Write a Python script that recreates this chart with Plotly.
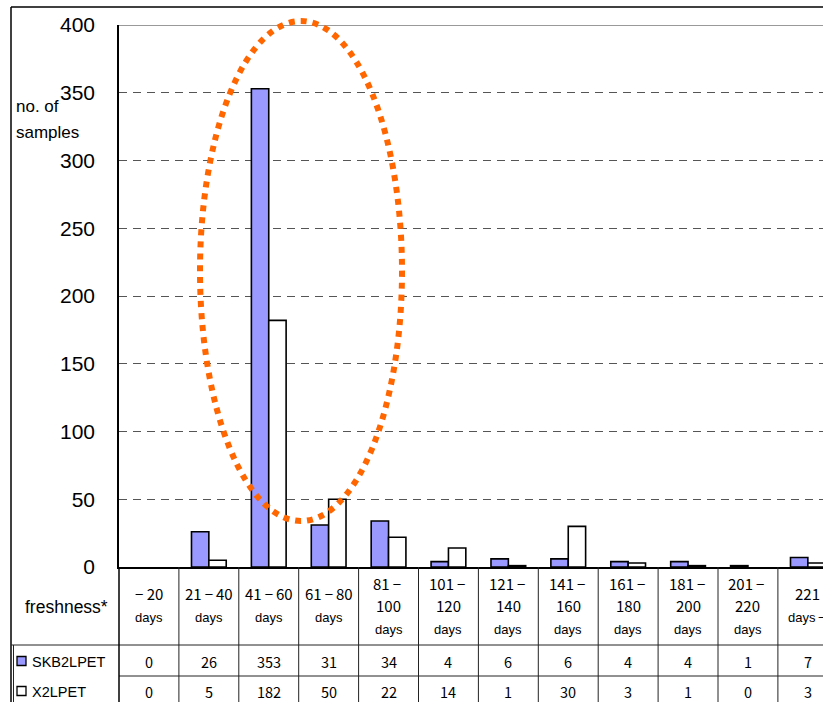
import plotly.graph_objects as go

# --- data -------------------------------------------------------------
DASH = "\u2009\u2212\u2009"
range_lines = [
    ["\u2212 20", "days"],
    ["21" + DASH + "40", "days"],
    ["41" + DASH + "60", "days"],
    ["61" + DASH + "80", "days"],
    ["81" + DASH, "100", "days"],
    ["101" + DASH, "120", "days"],
    ["121" + DASH, "140", "days"],
    ["141" + DASH, "160", "days"],
    ["161" + DASH, "180", "days"],
    ["181" + DASH, "200", "days"],
    ["201" + DASH, "220", "days"],
    ["221", "days" + DASH],
]
series_names = ["SKB2LPET", "X2LPET"]
skb2lpet = [0, 26, 353, 31, 34, 4, 6, 6, 4, 4, 1, 7]
x2lpet = [0, 5, 182, 50, 22, 14, 1, 30, 3, 1, 0, 3]
y_ticks = [0, 50, 100, 150, 200, 250, 300, 350, 400]

# --- geometry ---------------------------------------------------------
W, H = 823, 702
ML, MT, MB = 119, 25, 135
PW, PH = W - ML, H - MT - MB
CAT_W = 59.9
X0 = -0.5
X1 = X0 + PW / CAT_W
xs = list(range(len(range_lines)))

BLUE = "#9999FF"
ORANGE = "#FF6600"
LINE = "#222222"
CJK = "Noto Sans CJK JP"
SANS = "Liberation Sans, Arial, sans-serif"


def px(x):
    return (x - ML) / PW


def py(y):
    return (MT + PH - y) / PH


def cat_px(i):
    return ML + (i - X0) * CAT_W


def outline(values):
    # empty bars get no outline so nothing is drawn for them
    return [0 if v == 0 else 1.6 for v in values]


fig = go.Figure()
fig.add_bar(x=xs, y=skb2lpet, name=series_names[0],
            marker=dict(color=BLUE, line=dict(color="black", width=outline(skb2lpet))))
fig.add_bar(x=xs, y=x2lpet, name=series_names[1],
            marker=dict(color="white", line=dict(color="black", width=outline(x2lpet))))

shapes = []
annotations = []


def hline(y, xa, xb, color=LINE, width=1):
    shapes.append(dict(type="line", xref="paper", yref="paper", x0=px(xa), x1=px(xb),
                       y0=py(y), y1=py(y), line=dict(color=color, width=width), layer="above"))


def vline(x, ya, yb, color=LINE, width=1):
    shapes.append(dict(type="line", xref="paper", yref="paper", x0=px(x), x1=px(x),
                       y0=py(ya), y1=py(yb), line=dict(color=color, width=width), layer="above"))


def text(t, x, y, size, family, xanchor="center"):
    annotations.append(dict(text=t, xref="paper", yref="paper", x=px(x), y=py(y),
                            xanchor=xanchor, yanchor="middle", showarrow=False,
                            font=dict(size=size, family=family, color="black")))


# outer chart border
vline(11, 7, H + 2, color="black", width=1.5)
hline(7, 11, W + 2, color="black", width=1.5)

# solid top gridline at the axis maximum
shapes.append(dict(type="line", xref="paper", yref="y", x0=0, x1=1, y0=y_ticks[-1], y1=y_ticks[-1],
                   line=dict(color="#999999", width=2), layer="above"))

# data table grid
hline(645, 11, W + 2)
hline(676, ML, W + 2)
vline(13.5, 645, H + 2)
vline(ML, MT + PH, H + 2, color="black", width=1.5)
for i in range(len(range_lines)):
    bx = cat_px(i + 0.5)
    if bx < W:
        vline(bx, MT + PH, H + 2)

# category labels
for i, lines in enumerate(range_lines):
    cx = cat_px(i)
    ys = [583, 605, 629] if len(lines) == 3 else [593, 617]
    for ln, yy in zip(lines, ys):
        if ln.startswith("days"):
            text(ln, cx, yy, 13, SANS)
        else:
            text(ln, cx, yy, 15, CJK)

# table values
for i in xs:
    cx = cat_px(i)
    text(str(skb2lpet[i]), cx, 661, 14.5, CJK)
    text(str(x2lpet[i]), cx, 691, 14.5, CJK)

# legend keys in the table
for (name, fill, yy) in [(series_names[0], BLUE, 661), (series_names[1], "white", 691)]:
    shapes.append(dict(type="rect", xref="paper", yref="paper", x0=px(17), x1=px(26),
                       y0=py(yy + 4.5), y1=py(yy - 4.5), fillcolor=fill,
                       line=dict(color="black", width=1.3), layer="above"))
    text(name, 30, yy + 1, 14.5, SANS, xanchor="left")

text("freshness*", 66, 607, 17.5, SANS)
text("no. of", 14, 107, 17, SANS, xanchor="left")
text("samples", 14, 132, 17, SANS, xanchor="left")

# highlight ring around the 41-60 day peak
shapes.append(dict(type="circle", xref="paper", yref="paper",
                   x0=px(200), x1=px(402), y0=py(521), y1=py(21),
                   line=dict(color=ORANGE, width=6, dash="6px,6px"), layer="above"))

fig.update_layout(
    width=W, height=H, autosize=False,
    margin=dict(l=ML, r=0, t=MT, b=MB, pad=0),
    paper_bgcolor="white", plot_bgcolor="white",
    barmode="group", bargap=0.42, bargroupgap=0,
    showlegend=False,
    shapes=shapes, annotations=annotations,
    xaxis=dict(range=[X0, X1], showticklabels=False, ticks="", showgrid=False,
               zeroline=False, showline=True, linecolor="black", linewidth=1.5),
    yaxis=dict(range=[0, 400], tickvals=y_ticks, ticks="", showgrid=True,
               gridcolor="#555555", gridwidth=1, griddash="8px,6px",
               zeroline=False, showline=True, linecolor="black", linewidth=1.5,
               ticklabelstandoff=18,
               tickfont=dict(size=21, family=SANS, color="black")),
)

fig.write_html("out.html")
